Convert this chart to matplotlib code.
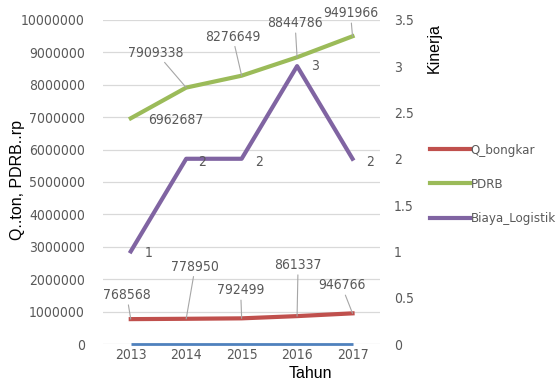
import numpy as np
import matplotlib.pyplot as plt
from matplotlib import font_manager

years = ["2013", "2014", "2015", "2016", "2017"]
tahun_vals = [2013, 2014, 2015, 2016, 2017]
q_bongkar = [768568, 778950, 792499, 861337, 946766]
pdrb = [6962687, 7909338, 8276649, 8844786, 9491966]
biaya = [1, 2, 2, 3, 2]

has_cond = any(f.name == "DejaVu Sans" and f.stretch == "condensed"
               for f in font_manager.fontManager.ttflist)
stretch = "condensed" if has_cond else "normal"
tsize = 10 if has_cond else 9
gray = "#595959"
tick_fp = font_manager.FontProperties(family="DejaVu Sans", stretch=stretch, size=tsize)

fig = plt.figure(figsize=(5.6, 3.81), dpi=100)
ax = fig.add_axes([0.184, 0.097, 0.495, 0.851])
ax2 = ax.twinx()

x = np.arange(len(years))
ax.plot(x, tahun_vals, color="#4F81BD", lw=2, solid_capstyle="butt", zorder=3, clip_on=False)
ax.plot(x, q_bongkar, color="#C0504D", lw=3, label="Q_bongkar", zorder=3)
ax.plot(x, pdrb, color="#9BBB59", lw=3, label="PDRB", zorder=3)
ax2.plot(x, biaya, color="#8064A2", lw=3, label="Biaya_Logistik", zorder=3)

ax.set_xlim(-0.5, 4.5)
ax.set_ylim(0, 10000000)
ax2.set_ylim(0, 3.5)
ax.set_yticks(np.arange(0, 10000001, 1000000))
ax2.set_yticks(np.arange(0, 3.51, 0.5))
ax2.set_yticklabels(["0", "0.5", "1", "1.5", "2", "2.5", "3", "3.5"])
ax.set_yticklabels([str(v) for v in range(0, 10000001, 1000000)])
ax.set_xticks(x)
ax.set_xticklabels(years)
ax.yaxis.grid(True, color="#d9d9d9", lw=0.9)
ax.set_axisbelow(True)
for a in (ax, ax2):
    for s in a.spines.values():
        s.set_visible(False)
    a.tick_params(length=0, colors=gray)
    for lab in a.get_xticklabels() + a.get_yticklabels():
        lab.set_fontproperties(tick_fp)
ax.tick_params(axis="y", pad=13)
ax.tick_params(axis="x", pad=3)
ax2.tick_params(axis="y", pad=10)

lab_font = dict(color=gray, fontproperties=tick_fp, ha="center", va="center")
lead = dict(arrowstyle="-", color="#a6a6a6", lw=0.8, shrinkA=0, shrinkB=0)

pdrb_off = [(45, -2), (-30, 35), (-9, 39), (-2, 34), (-2, 23)]
for i, (v, off) in enumerate(zip(pdrb, pdrb_off)):
    ax.annotate(str(v), (x[i], v), xytext=off, textcoords="offset pixels",
                arrowprops=None if i == 0 else lead, **lab_font)

q_off = [(-4, 24), (9, 52), (-1, 28), (1, 51), (-11, 28)]
for i, (v, off) in enumerate(zip(q_bongkar, q_off)):
    ax.annotate(str(v), (x[i], v), xytext=off, textcoords="offset pixels",
                arrowprops=lead, **lab_font)

b_off = [(18, -2), (16, -3), (17, -3), (18, 0), (18, -3)]
for i, (v, off) in enumerate(zip(biaya, b_off)):
    ax2.annotate(str(v), (x[i], v), xytext=off, textcoords="offset pixels", **lab_font)

fig.text(18 / 560, 1 - 180 / 381, "Q..ton, PDRB..rp", rotation=90, ha="center", va="center",
         fontsize=11.5, family="Liberation Sans")
fig.text(434 / 560, 1 - 48 / 381, "Kinerja", rotation=90, ha="center", va="center",
         fontsize=11.5, family="Liberation Sans")
fig.text(310 / 560, 1 - 374 / 381, "Tahun", ha="center", va="center",
         fontsize=11.5, family="Liberation Sans")

h1, l1 = ax.get_legend_handles_labels()
h2, l2 = ax2.get_legend_handles_labels()
leg = fig.legend(h1 + h2, l1 + l2, loc="upper left", bbox_to_anchor=(426 / 560, 1 - 140 / 381),
                 frameon=False, handlelength=3.0, handletextpad=0.1, labelspacing=1.6,
                 borderaxespad=0, borderpad=0.3,
                 prop=font_manager.FontProperties(family="DejaVu Sans", stretch=stretch,
                                                  size=tsize - 0.5))
for t in leg.get_texts():
    t.set_color(gray)

fig.savefig("out.png", dpi=100)
